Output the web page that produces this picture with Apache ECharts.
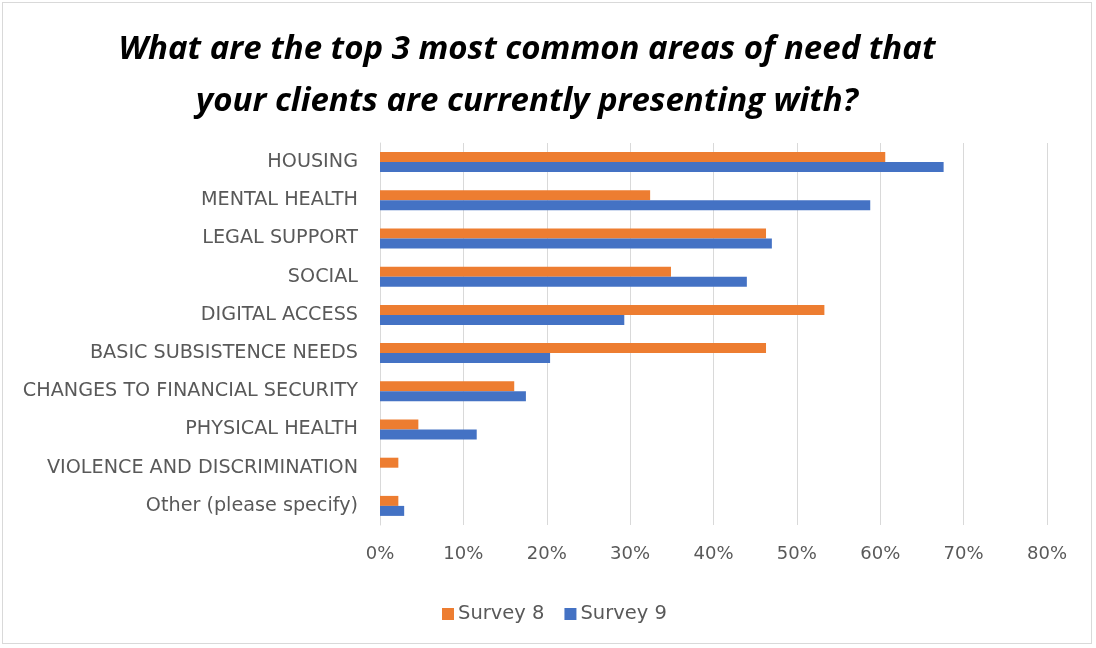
<!DOCTYPE html>
<html>
<head>
<meta charset="utf-8">
<script src="https://cdn.jsdelivr.net/npm/echarts@6/dist/echarts.min.js"></script>
<style>
  html, body { margin: 0; padding: 0; background: #fff; }
  #frame { position: absolute; left: 2px; top: 2px; width: 1090px; height: 642px; border: 1px solid #d9d9d9; box-sizing: border-box; }
  #chart { position: absolute; left: 0; top: 0; width: 1096px; height: 648px; }
</style>
</head>
<body>
<div id="frame"></div>
<div id="chart"></div>
<script>
// Areas of need, top to bottom
const categories = [
  'HOUSING',
  'MENTAL HEALTH',
  'LEGAL SUPPORT',
  'SOCIAL',
  'DIGITAL ACCESS',
  'BASIC SUBSISTENCE NEEDS',
  'CHANGES TO FINANCIAL SECURITY',
  'PHYSICAL HEALTH',
  'VIOLENCE AND DISCRIMINATION',
  'Other (please specify)'
];
// Share of respondents (%)
const survey8 = [60.6, 32.4, 46.3, 34.9, 53.3, 46.3, 16.1, 4.6, 2.2, 2.2];
const survey9 = [67.6, 58.8, 47.0, 44.0, 29.3, 20.4, 17.5, 11.6, 0, 2.9];
const seriesNames = ['Survey 8', 'Survey 9'];
const axisMax = 80;
const axisStep = 10;

const chart = echarts.init(document.getElementById('chart'), null, { renderer: 'canvas' });
const labelFont = '"DejaVu Sans", "Open Sans", sans-serif';

chart.setOption({
  animation: false,
  backgroundColor: 'transparent',
  title: {
    text: 'What are the top 3 most common areas of need that\nyour clients are currently presenting with?',
    left: 522,
    textAlign: 'center',
    top: 19,
    textStyle: {
      fontFamily: '"Open Sans", "Liberation Sans", sans-serif',
      fontStyle: 'italic',
      fontWeight: 'bold',
      fontSize: 33,
      lineHeight: 52,
      color: '#000'
    }
  },
  legend: {
    data: seriesNames,
    left: 437,
    top: 599,
    itemWidth: 12,
    itemHeight: 12,
    itemGap: 20,
    icon: 'rect',
    textStyle: { fontFamily: labelFont, fontSize: 19.5, color: '#595959', padding: [0, 0, 0, -1] }
  },
  grid: { left: 380, right: 49, top: 143, bottom: 123, containLabel: false },
  xAxis: {
    type: 'value',
    min: 0,
    max: axisMax,
    interval: axisStep,
    axisLine: { show: false },
    axisTick: { show: false },
    splitLine: { show: true, lineStyle: { color: '#d9d9d9', width: 1 } },
    axisLabel: {
      formatter: v => v + '%',
      margin: 20,
      fontFamily: labelFont,
      fontSize: 18,
      color: '#595959'
    }
  },
  yAxis: {
    type: 'category',
    data: categories,
    inverse: true,
    axisLine: { show: true, lineStyle: { color: '#d9d9d9' } },
    axisTick: { show: false },
    axisLabel: {
      margin: 22,
      fontFamily: labelFont,
      fontSize: 19.2,
      color: '#595959'
    }
  },
  series: [
    {
      name: seriesNames[0],
      type: 'bar',
      data: survey8,
      barWidth: 10,
      barGap: '0%',
      itemStyle: { color: '#ED7D31' }
    },
    {
      name: seriesNames[1],
      type: 'bar',
      data: survey9,
      barWidth: 10,
      barGap: '0%',
      itemStyle: { color: '#4472C4' }
    }
  ]
});
</script>
</body>
</html>
